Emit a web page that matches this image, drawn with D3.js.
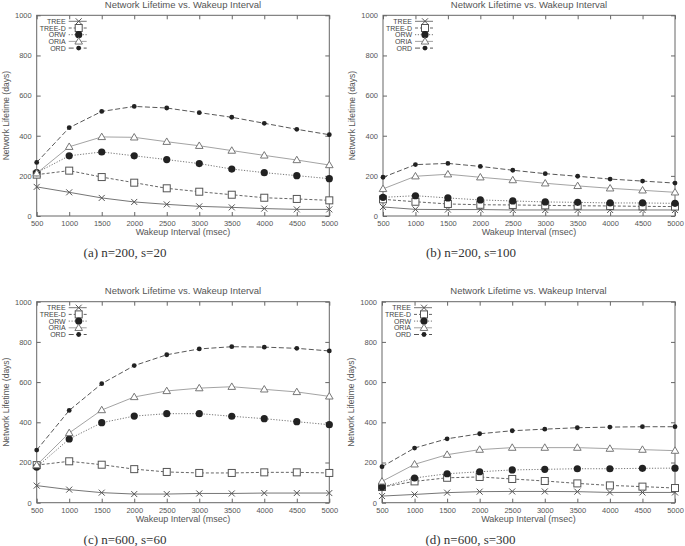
<!DOCTYPE html>
<html><head><meta charset="utf-8">
<script src="https://cdn.jsdelivr.net/npm/d3@7"></script>
<style>body{margin:0;background:#fff}svg{display:block}</style>
</head><body>
<script>
const wakeupIntervals = [500,1000,1500,2000,2500,3000,3500,4000,4500,5000];
const yTicks = [0,200,400,600,800,1000];
const seriesNames = ["TREE","TREE-D","ORW","ORIA","ORD"];
const chartTitle = "Network Lifetime vs. Wakeup Interval";
const xTitle = "Wakeup Interval (msec)";
const yTitle = "Network Lifetime (days)";
const captions = ["(a) n=200, s=20","(b) n=200, s=100","(c) n=600, s=60","(d) n=600, s=300"];

// (a) n=200, s=20
const a_TREE  = [145,118,90,70,58,48,43,37,33,33];
const a_TREED = [206,226,194,166,138,121,106,91,85,78];
const a_ORW   = [216,300,319,300,281,261,234,216,201,186];
const a_ORIA  = [213,345,394,392,370,350,326,302,279,254];
const a_ORD   = [267,440,521,546,538,515,492,462,432,405];
// (b) n=200, s=100
const b_TREE  = [45,33,32,32,30,30,30,30,30,30];
const b_TREED = [83,71,60,56,55,53,51,50,48,47];
const b_ORW   = [93,101,90,80,75,70,68,65,65,63];
const b_ORIA  = [135,198,208,193,179,163,150,138,128,118];
const b_ORD   = [193,256,262,247,228,211,198,184,174,164];
// (c) n=600, s=60
const c_TREE  = [85,65,50,43,43,46,46,48,48,48];
const c_TREED = [187,206,189,167,153,148,148,151,151,148];
const c_ORW   = [177,317,398,431,443,443,430,418,403,388];
const c_ORIA  = [187,347,461,526,556,570,577,564,551,529];
const c_ORD   = [262,459,592,682,736,765,776,774,768,755];
// (d) n=600, s=300
const d_TREE  = [33,41,50,55,56,56,55,51,51,51];
const d_TREED = [78,106,124,128,118,108,96,86,80,73];
const d_ORW   = [78,123,144,154,163,166,169,169,171,172];
const d_ORIA  = [106,191,239,264,274,274,274,269,264,259];
const d_ORD   = [179,272,318,343,358,366,373,376,378,378];

const panels = [
  {data:[a_TREE,a_TREED,a_ORW,a_ORIA,a_ORD], box:[36.7,329.3,15.3,216], cap:captions[0]},
  {data:[b_TREE,b_TREED,b_ORW,b_ORIA,b_ORD], box:[383,675,15.3,216], cap:captions[1]},
  {data:[c_TREE,c_TREED,c_ORW,c_ORIA,c_ORD], box:[36.7,329.3,301.7,502.7], cap:captions[2]},
  {data:[d_TREE,d_TREED,d_ORW,d_ORIA,d_ORD], box:[382,675,301.7,502.7], cap:captions[3]}
];

const styles = [
  {stroke:"#666", dash:null, marker:"x"},
  {stroke:"#555", dash:"3,2", marker:"square"},
  {stroke:"#666", dash:"1.2,1.6", marker:"circle"},
  {stroke:"#999", dash:null, marker:"triangle"},
  {stroke:"#444", dash:"5,2.5", marker:"dot"}
];

const svg = d3.select("body").append("svg").attr("width",685).attr("height",546);
svg.append("rect").attr("width",685).attr("height",546).attr("fill","#fff");

function drawMarker(g, type, x, y){
  if(type==="x"){
    const s=3;
    g.append("path").attr("d",`M${x-s},${y-s}L${x+s},${y+s}M${x-s},${y+s}L${x+s},${y-s}`)
      .attr("stroke","#555").attr("stroke-width",1).attr("fill","none");
  } else if(type==="square"){
    g.append("rect").attr("x",x-3.5).attr("y",y-3.5).attr("width",7).attr("height",7)
      .attr("fill","#fff").attr("stroke","#555").attr("stroke-width",1);
  } else if(type==="circle"){
    g.append("circle").attr("cx",x).attr("cy",y).attr("r",3.6).attr("fill","#222");
  } else if(type==="triangle"){
    const s=3.8;
    g.append("path").attr("d",`M${x},${y-s}L${x+s},${y+s*0.7}L${x-s},${y+s*0.7}Z`)
      .attr("fill","#fff").attr("stroke","#777").attr("stroke-width",1);
  } else {
    g.append("circle").attr("cx",x).attr("cy",y).attr("r",2.4).attr("fill","#222");
  }
}

panels.forEach(p=>{
  const [L,R,T,B] = p.box;
  const x = d3.scaleLinear().domain([500,5000]).range([L,R]);
  const y = d3.scaleLinear().domain([0,1000]).range([B,T]);
  const g = svg.append("g");
  const font = "Liberation Sans, Arial, sans-serif";

  // axes
  const xa = g.append("g").attr("transform",`translate(0,${B})`)
    .call(d3.axisBottom(x).tickValues(wakeupIntervals).tickSize(-4).tickPadding(5).tickFormat(d3.format("d")));
  const xt = g.append("g").attr("transform",`translate(0,${T})`)
    .call(d3.axisTop(x).tickValues(wakeupIntervals).tickSize(-4).tickFormat(""));
  const ya = g.append("g").attr("transform",`translate(${L},0)`)
    .call(d3.axisLeft(y).tickValues(yTicks).tickSize(-4).tickPadding(5).tickFormat(d3.format("d")));
  const yr = g.append("g").attr("transform",`translate(${R},0)`)
    .call(d3.axisRight(y).tickValues(yTicks).tickSize(-4).tickFormat(""));
  [xa,xt,ya,yr].forEach(a=>{
    a.select(".domain").remove();
    a.selectAll("line").attr("stroke","#666");
    a.selectAll("text").attr("font-family",font).attr("font-size",7.5).attr("fill","#555");
  });
  g.append("rect").attr("x",L).attr("y",T).attr("width",R-L).attr("height",B-T)
    .attr("fill","none").attr("stroke","#666").attr("stroke-width",1);

  // titles
  g.append("text").attr("x",(L+R)/2).attr("y",T-7.5).attr("text-anchor","middle")
    .attr("font-family",font).attr("font-size",9.5).attr("fill","#555").text(chartTitle);
  g.append("text").attr("x",(L+R)/2).attr("y",B+19).attr("text-anchor","middle")
    .attr("font-family",font).attr("font-size",9).attr("fill","#555").text(xTitle);
  g.append("text").attr("transform",`translate(${L-28},${(T+B)/2}) rotate(-90)`)
    .attr("text-anchor","middle").attr("font-family",font).attr("font-size",8.5)
    .attr("fill","#555").text(yTitle);
  g.append("text").attr("x",(L+R)/2 - 58).attr("y",B+41).attr("text-anchor","middle")
    .attr("font-family","Liberation Serif, Times New Roman, serif").attr("font-size",13)
    .attr("fill","#333").text(p.cap);

  // series
  const line = d3.line().x((d,i)=>x(wakeupIntervals[i])).y(d=>y(d));
  p.data.forEach((vals,k)=>{
    const st = styles[k];
    g.append("path").datum(vals).attr("d",line).attr("fill","none")
      .attr("stroke",st.stroke).attr("stroke-width",0.9)
      .attr("stroke-dasharray",st.dash);
    vals.forEach((v,i)=>drawMarker(g, st.marker, x(wakeupIntervals[i]), y(v)));
  });

  // legend
  seriesNames.forEach((name,k)=>{
    const st = styles[k];
    const ly = T + 6 + k*6.7;
    const tx = L + 29;
    g.append("text").attr("x",tx).attr("y",ly+2.5).attr("text-anchor","end")
      .attr("font-family",font).attr("font-size",7).attr("fill","#444").text(name);
    g.append("line").attr("x1",tx+3).attr("x2",tx+21).attr("y1",ly).attr("y2",ly)
      .attr("stroke",st.stroke).attr("stroke-width",0.9).attr("stroke-dasharray",st.dash);
    drawMarker(g, st.marker, tx+13, ly);
  });
});
</script>
</body></html>
